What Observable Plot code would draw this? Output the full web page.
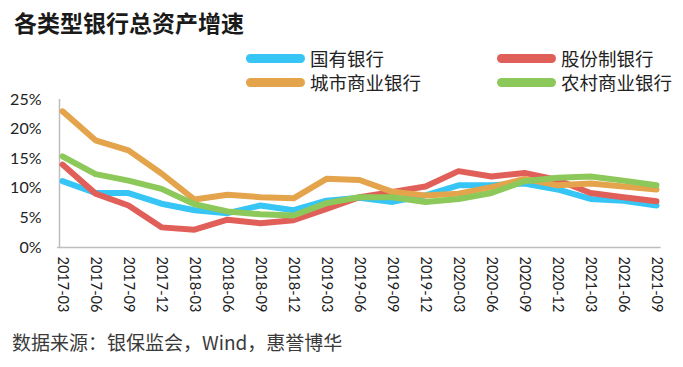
<!DOCTYPE html>
<html>
<head>
<meta charset="utf-8">
<script src="https://cdn.jsdelivr.net/npm/d3@7"></script>
<script src="https://cdn.jsdelivr.net/npm/@observablehq/plot@0.6"></script>
<style>
  html, body { margin: 0; padding: 0; background: #fff; }
  #wrap { position: relative; width: 683px; height: 367px; overflow: hidden; font-family: "Noto Sans CJK SC", sans-serif; color: #1a1a1a; }
  #title { position: absolute; left: 14px; top: 11px; font-size: 23px; line-height: 1; font-weight: 700; white-space: nowrap; }
  .leg { position: absolute; display: flex; align-items: center; font-size: 18.5px; line-height: 1; color: #222; font-weight: 400; white-space: nowrap; }
  .sw { display: inline-block; width: 59px; height: 9px; border-radius: 5px; margin-right: 5px; }
  #chart { position: absolute; left: 0; top: 90px; }
  #caption { position: absolute; left: 12px; top: 332px; font-size: 19px; line-height: 1; color: #3a3a3a; white-space: nowrap; }
</style>
</head>
<body>
<div id="wrap">
  <div id="title"></div>
  <div id="legend"></div>
  <div id="chart"></div>
  <div id="caption"></div>
</div>
<script>
const titleText = "各类型银行总资产增速";
const captionText = "数据来源：银保监会，Wind，惠誉博华";
const dates = ["2017-03","2017-06","2017-09","2017-12","2018-03","2018-06","2018-09","2018-12",
  "2019-03","2019-06","2019-09","2019-12","2020-03","2020-06","2020-09","2020-12","2021-03","2021-06","2021-09"];
const seriesNames = ["国有银行","股份制银行","城市商业银行","农村商业银行"];
const seriesColors = ["#36c5f4","#e15f59","#e4a44c","#8dc85a"];
const stateOwned = [11.2, 9.2, 9.2, 7.4, 6.3, 5.8, 7.1, 6.3, 7.9, 8.4, 7.7, 8.8, 10.5, 10.5, 10.8, 9.8, 8.2, 7.9, 7.1];
const jointStock = [14.0, 9.1, 7.1, 3.4, 3.0, 4.7, 4.1, 4.6, 6.5, 8.5, 9.4, 10.3, 12.9, 12.0, 12.6, 11.4, 9.2, 8.5, 7.8];
const cityCommercial = [23.0, 18.1, 16.4, 12.5, 8.1, 8.9, 8.5, 8.3, 11.6, 11.4, 9.4, 8.8, 9.1, 10.2, 11.6, 10.5, 10.8, 10.3, 9.8];
const ruralCommercial = [15.4, 12.4, 11.3, 9.9, 7.3, 6.1, 5.6, 5.4, 7.5, 8.5, 8.5, 7.7, 8.2, 9.2, 11.2, 11.8, 12.0, 11.3, 10.5];
const yTicks = [0, 5, 10, 15, 20, 25];

const seriesValues = [stateOwned, jointStock, cityCommercial, ruralCommercial];
const data = [];
seriesNames.forEach((name, s) => {
  dates.forEach((d, i) => data.push({series: name, date: d, value: seriesValues[s][i]}));
});

document.getElementById("title").textContent = titleText;
document.getElementById("caption").textContent = captionText;

// legend (2 rows x 2 columns)
const legend = document.getElementById("legend");
const legPos = [[246, 49], [497, 49], [246, 73], [497, 73]];
seriesNames.forEach((name, i) => {
  const item = document.createElement("div");
  item.className = "leg";
  item.style.left = legPos[i][0] + "px";
  item.style.top = legPos[i][1] + "px";
  const sw = document.createElement("span");
  sw.className = "sw";
  sw.style.background = seriesColors[i];
  const t = document.createElement("span");
  t.textContent = name;
  item.appendChild(sw);
  item.appendChild(t);
  legend.appendChild(item);
});

const chart = Plot.plot({
  width: 683,
  height: 240,
  marginLeft: 57,
  marginRight: 22.4,
  marginTop: 9,
  marginBottom: 83,
  x: {type: "point", domain: dates, padding: 0.09},
  y: {domain: [0, 25]},
  color: {domain: seriesNames, range: seriesColors},
  style: {fontFamily: "Lato, sans-serif", background: "transparent", color: "#222"},
  marks: [
    Plot.axisX({tickSize: 0, tickPadding: 9, tickRotate: 90, fontSize: 14.5, label: null}),
    Plot.axisY({ticks: yTicks, tickSize: 0, tickPadding: 16, tickFormat: d => d + "%", fontSize: 16, label: null}),
    Plot.ruleY([0], {stroke: "#bdbdbd", strokeWidth: 1.5}),
    Plot.ruleX([dates[0]], {y1: 0, y2: 25, dx: -3, stroke: "#bdbdbd", strokeWidth: 1.5}),
    Plot.lineY(data, {x: "date", y: "value", stroke: "series", strokeWidth: 6, strokeLinejoin: "round", strokeLinecap: "round"})
  ]
});
document.getElementById("chart").appendChild(chart);
</script>
</body>
</html>
